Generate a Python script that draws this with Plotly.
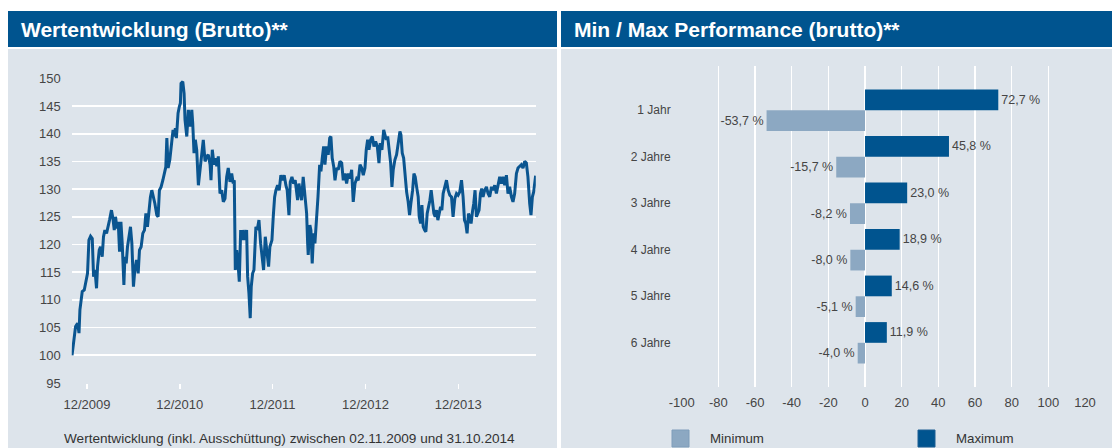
import plotly.graph_objects as go
from datetime import datetime

# ---------------- data ----------------
# Left chart: performance index (decimal year, value)
time_dec = [
    2009.836, 2009.849, 2009.860, 2009.874, 2009.896, 2009.911, 2009.921, 2009.932, 2009.946, 2009.968,
    2009.982, 2010.003, 2010.018, 2010.036, 2010.054, 2010.068, 2010.083, 2010.100, 2010.111, 2010.129,
    2010.143, 2010.161, 2010.175, 2010.190, 2010.208, 2010.226, 2010.240, 2010.261, 2010.277, 2010.291,
    2010.305, 2010.320, 2010.334, 2010.348, 2010.363, 2010.377, 2010.395, 2010.406, 2010.420, 2010.434,
    2010.452, 2010.466, 2010.481, 2010.498, 2010.513, 2010.531, 2010.549, 2010.563, 2010.581, 2010.599,
    2010.617, 2010.632, 2010.649, 2010.664, 2010.681, 2010.696, 2010.713, 2010.729, 2010.750, 2010.764,
    2010.778, 2010.796, 2010.815, 2010.832, 2010.847, 2010.858, 2010.872, 2010.890, 2010.907, 2010.925,
    2010.936, 2010.950, 2010.961, 2010.979, 2010.993, 2011.004, 2011.011, 2011.030, 2011.044, 2011.054,
    2011.073, 2011.090, 2011.108, 2011.127, 2011.137, 2011.151, 2011.165, 2011.180, 2011.198, 2011.216,
    2011.234, 2011.251, 2011.270, 2011.288, 2011.305, 2011.324, 2011.334, 2011.348, 2011.367, 2011.385,
    2011.396, 2011.413, 2011.431, 2011.449, 2011.467, 2011.485, 2011.503, 2011.520, 2011.539, 2011.557,
    2011.574, 2011.585, 2011.596, 2011.611, 2011.628, 2011.639, 2011.654, 2011.668, 2011.682, 2011.700,
    2011.718, 2011.729, 2011.743, 2011.757, 2011.768, 2011.783, 2011.797, 2011.818, 2011.832, 2011.851,
    2011.869, 2011.886, 2011.901, 2011.919, 2011.937, 2011.955, 2011.969, 2011.991, 2012.005, 2012.020,
    2012.034, 2012.052, 2012.069, 2012.087, 2012.106, 2012.123, 2012.141, 2012.155, 2012.174, 2012.188,
    2012.206, 2012.224, 2012.241, 2012.267, 2012.281, 2012.295, 2012.310, 2012.327, 2012.346, 2012.364,
    2012.375, 2012.381, 2012.399, 2012.410, 2012.424, 2012.439, 2012.453, 2012.472, 2012.486, 2012.504,
    2012.518, 2012.532, 2012.547, 2012.561, 2012.579, 2012.596, 2012.612, 2012.625, 2012.639, 2012.655,
    2012.669, 2012.687, 2012.704, 2012.722, 2012.741, 2012.758, 2012.776, 2012.794, 2012.812, 2012.830,
    2012.848, 2012.865, 2012.884, 2012.902, 2012.919, 2012.938, 2012.956, 2012.973, 2012.991, 2013.005,
    2013.020, 2013.034, 2013.053, 2013.070, 2013.088, 2013.106, 2013.124, 2013.142, 2013.156, 2013.174,
    2013.193, 2013.207, 2013.221, 2013.236, 2013.250, 2013.268, 2013.282, 2013.296, 2013.314, 2013.332,
    2013.350, 2013.368, 2013.379, 2013.393, 2013.408, 2013.422, 2013.440, 2013.457, 2013.472, 2013.486,
    2013.505, 2013.519, 2013.533, 2013.548, 2013.565, 2013.576, 2013.591, 2013.605, 2013.619, 2013.634,
    2013.648, 2013.662, 2013.677, 2013.691, 2013.705, 2013.720, 2013.734, 2013.748, 2013.763, 2013.777,
    2013.791, 2013.806, 2013.820, 2013.834, 2013.852, 2013.870, 2013.888, 2013.906, 2013.924, 2013.941,
    2013.960, 2013.978, 2013.995, 2014.013, 2014.032, 2014.049, 2014.064, 2014.078, 2014.092, 2014.107,
    2014.121, 2014.135, 2014.150, 2014.164, 2014.178, 2014.193, 2014.207, 2014.221, 2014.236, 2014.250,
    2014.264, 2014.282, 2014.301, 2014.318, 2014.336, 2014.355, 2014.372, 2014.390, 2014.408, 2014.426,
    2014.444, 2014.462, 2014.479, 2014.498, 2014.516, 2014.533, 2014.551, 2014.570, 2014.587, 2014.605,
    2014.624, 2014.641, 2014.659, 2014.677, 2014.695, 2014.713, 2014.731, 2014.748, 2014.767, 2014.781,
    2014.796, 2014.810, 2014.831,
]
index_values = [
    100.0, 101.6, 103.4, 105.2, 105.8, 104.0, 108.2, 110.0, 111.5, 111.8,
    113.0, 114.8, 120.8, 121.5, 121.1, 114.2, 115.4, 112.1, 116.0, 119.0,
    119.6, 117.8, 121.4, 122.6, 122.0, 123.8, 124.4, 126.2, 124.7, 122.6,
    125.0, 122.9, 124.1, 118.7, 124.1, 120.2, 112.7, 117.8, 116.6, 119.6,
    121.4, 123.2, 120.2, 112.4, 115.4, 117.2, 114.8, 119.0, 119.6, 122.0,
    122.6, 125.6, 123.2, 126.2, 128.6, 129.8, 128.6, 127.4, 125.3, 125.0,
    129.8, 130.4, 131.6, 132.8, 134.0, 139.2, 133.8, 135.3, 137.7, 140.7,
    139.5, 141.0, 139.2, 143.7, 144.9, 145.5, 149.1, 149.4, 147.3, 142.5,
    139.5, 144.3, 141.3, 144.3, 141.9, 136.5, 138.9, 137.1, 130.7, 133.5,
    136.5, 138.9, 135.0, 135.9, 136.2, 134.4, 131.6, 137.1, 134.4, 135.6,
    134.1, 135.9, 129.2, 129.8, 127.7, 128.3, 132.2, 133.8, 131.3, 132.8,
    131.0, 131.6, 115.4, 119.0, 116.0, 113.3, 122.6, 120.8, 122.6, 120.8,
    122.6, 114.2, 111.2, 106.7, 112.4, 114.8, 115.4, 123.2, 122.6, 124.4,
    120.2, 117.2, 115.4, 121.4, 119.0, 116.0, 119.6, 120.8, 125.0, 128.6,
    129.8, 130.7, 129.8, 132.5, 131.6, 132.5, 130.7, 129.8, 125.3, 131.3,
    132.2, 131.0, 131.6, 128.0, 131.0, 129.5, 128.0, 132.2, 129.2, 125.6,
    120.2, 118.1, 123.5, 122.6, 116.6, 122.0, 120.2, 124.4, 128.6, 134.4,
    133.2, 135.6, 137.7, 134.4, 137.7, 136.2, 139.2, 139.5, 135.6, 134.1,
    131.6, 133.8, 133.5, 135.0, 134.7, 131.6, 132.8, 131.0, 132.8, 131.9,
    133.5, 127.7, 131.0, 131.9, 131.6, 134.4, 133.8, 132.5, 133.8, 137.1,
    138.9, 137.1, 138.9, 139.5, 137.7, 138.6, 137.7, 134.7, 138.3, 137.1,
    140.7, 139.8, 138.9, 139.5, 137.1, 134.7, 130.4, 133.5, 135.3, 136.2,
    138.3, 140.4, 139.8, 136.5, 135.6, 132.2, 129.5, 127.7, 125.3, 127.4,
    129.8, 132.8, 132.2, 130.4, 128.6, 125.0, 123.8, 127.1, 123.2, 122.6,
    122.3, 125.6, 126.8, 128.0, 129.8, 127.4, 125.6, 125.0, 126.2, 124.4,
    125.6, 126.8, 126.2, 129.2, 130.4, 131.6, 129.8, 128.9, 128.6, 125.0,
    128.3, 129.2, 128.9, 129.5, 131.6, 128.6, 124.4, 123.8, 122.0, 125.6,
    125.0, 123.8, 125.9, 127.4, 129.8, 125.0, 125.6, 126.2, 129.2, 130.1,
    128.6, 129.8, 130.4, 129.2, 128.6, 130.4, 129.8, 130.7, 129.2, 131.0,
    132.2, 131.0, 132.2, 130.7, 132.5, 129.2, 130.4, 128.6, 127.7, 129.2,
    132.8, 133.8, 134.1, 134.4, 133.8, 135.0, 134.7, 132.2, 127.4, 125.3,
    128.6, 129.5, 132.4,
]
x_tick_dates = ["2009-12-31", "2010-12-31", "2011-12-31", "2012-12-31", "2013-12-31"]
x_tick_labels = ["12/2009", "12/2010", "12/2011", "12/2012", "12/2013"]
y_ticks_left = [95, 100, 105, 110, 115, 120, 125, 130, 135, 140, 145, 150]

# Right chart: min / max performance
periods = ["1 Jahr", "2 Jahre", "3 Jahre", "4 Jahre", "5 Jahre", "6 Jahre"]
max_perf = [72.7, 45.8, 23.0, 18.9, 14.6, 11.9]
min_perf = [-53.7, -15.7, -8.2, -8.0, -5.1, -4.0]
x_ticks_right = [-100, -80, -60, -40, -20, 0, 20, 40, 60, 80, 100, 120]

title_left = "Wertentwicklung (Brutto)**"
title_right = "Min / Max Performance (brutto)**"
caption_left = "Wertentwicklung (inkl. Ausschüttung) zwischen 02.11.2009 und 31.10.2014"

# ---------------- style ----------------
W, H = 1115, 448
BG = "#dde4eb"
BLUE = "#00548f"
LIGHT = "#8ca8c2"
TXT = "#454545"
FONT = "Liberation Sans, Arial, sans-serif"


def dec_to_date(t):
    y = int(t)
    s = datetime(y, 1, 1)
    e = datetime(y + 1, 1, 1)
    return s + (e - s) * (t - y)


def px(x):
    return x / W


def py(y):
    return 1 - y / H


def fmt(v):
    return f"{v:.1f}".replace(".", ",") + " %"


dates = [dec_to_date(t) for t in time_dec]

fig = go.Figure()

fig.add_trace(go.Scatter(
    x=dates, y=index_values, mode="lines",
    line=dict(color="#0a5590", width=3),
    xaxis="x", yaxis="y", showlegend=False, hoverinfo="skip",
))

fig.add_trace(go.Bar(
    y=periods, x=max_perf, orientation="h", name="Maximum",
    marker=dict(color=BLUE, line=dict(width=0)),
    text=[fmt(v) for v in max_perf], textposition="outside",
    textfont=dict(size=12.5, color=TXT, family=FONT), cliponaxis=False,
    constraintext="none",
    xaxis="x2", yaxis="y2", showlegend=False, hoverinfo="skip",
))
fig.add_trace(go.Bar(
    y=periods, x=min_perf, orientation="h", name="Minimum",
    marker=dict(color=LIGHT, line=dict(width=0)),
    text=[fmt(v) for v in min_perf], textposition="outside",
    textfont=dict(size=12.5, color=TXT, family=FONT), cliponaxis=False,
    constraintext="none",
    xaxis="x2", yaxis="y2", showlegend=False, hoverinfo="skip",
))

shapes = []
# panel backgrounds and title bars
for x0, x1 in [(8, 557), (561, 1112)]:
    shapes.append(dict(type="rect", xref="paper", yref="paper", layer="below",
                       x0=px(x0), x1=px(x1), y0=py(448), y1=py(49),
                       fillcolor=BG, line=dict(width=0)))
    shapes.append(dict(type="rect", xref="paper", yref="paper", layer="below",
                       x0=px(x0), x1=px(x1), y0=py(47), y1=py(11),
                       fillcolor=BLUE, line=dict(width=0)))
# legend squares
shapes.append(dict(type="rect", xref="paper", yref="paper",
                   x0=px(672), x1=px(689), y0=py(447), y1=py(430),
                   fillcolor=LIGHT, line=dict(color="#7f9dba", width=1)))
shapes.append(dict(type="rect", xref="paper", yref="paper",
                   x0=px(918), x1=px(935), y0=py(447), y1=py(430),
                   fillcolor=BLUE, line=dict(color="#1d5f93", width=1)))

annotations = [
    dict(text=title_left, x=px(19), y=py(29), xref="paper", yref="paper",
         xanchor="left", yanchor="middle", showarrow=False,
         font=dict(family=FONT, size=21, color="white", weight="bold")),
    dict(text=title_right, x=px(572), y=py(29), xref="paper", yref="paper",
         xanchor="left", yanchor="middle", showarrow=False,
         font=dict(family=FONT, size=21, color="white", weight="bold")),
    dict(text=caption_left, x=px(289.5), y=py(438), xref="paper", yref="paper",
         xanchor="center", yanchor="middle", showarrow=False,
         font=dict(family=FONT, size=13.6, color="#333333")),
    dict(text="Minimum", x=px(708), y=py(438.5), xref="paper", yref="paper",
         xanchor="left", yanchor="middle", showarrow=False,
         font=dict(family=FONT, size=13.3, color="#333333")),
    dict(text="Maximum", x=px(954), y=py(438.5), xref="paper", yref="paper",
         xanchor="left", yanchor="middle", showarrow=False,
         font=dict(family=FONT, size=13.3, color="#333333")),
]

fig.update_layout(
    width=W, height=H,
    margin=dict(l=0, r=0, t=0, b=0, pad=0, autoexpand=False),
    paper_bgcolor="white", plot_bgcolor="rgba(0,0,0,0)",
    font=dict(family=FONT, color=TXT, size=13),
    showlegend=False,
    barmode="group", bargap=0.11, bargroupgap=0,
    shapes=shapes, annotations=annotations,
    xaxis=dict(
        domain=[px(71.75), px(535.8)], anchor="y",
        type="date", range=["2009-11-01", "2014-11-01"],
        tickvals=x_tick_dates, ticktext=x_tick_labels,
        showgrid=False, zeroline=False, showline=False,
        ticks="outside", ticklen=5, tickwidth=1.5, tickcolor="white",
        tickfont=dict(size=13, color=TXT), ticklabelstandoff=4,
        automargin=False, fixedrange=True,
    ),
    yaxis=dict(
        domain=[py(383), py(78.3)], anchor="x",
        range=[95, 150], tickvals=y_ticks_left,
        showgrid=True, gridcolor="white", gridwidth=1.6,
        zeroline=False, showline=False, ticks="",
        tickfont=dict(size=13, color=TXT), ticklabelstandoff=10,
        automargin=False, fixedrange=True,
    ),
    xaxis2=dict(
        domain=[px(681.7), px(1085)], anchor="y2",
        range=[-100, 120], tickvals=x_ticks_right,
        ticktext=[str(v) for v in x_ticks_right],
        showgrid=True, gridcolor="white", gridwidth=1.5,
        zeroline=False, showline=False, ticks="",
        tickfont=dict(size=13, color=TXT), ticklabelstandoff=6,
        automargin=False, fixedrange=True,
    ),
    yaxis2=dict(
        domain=[py(387), py(66)], anchor="x2",
        type="category", categoryorder="array", categoryarray=periods,
        range=[5.95, -0.95],
        showgrid=False, zeroline=False, showline=False, ticks="",
        tickfont=dict(size=12, color=TXT), ticklabelstandoff=10,
        automargin=False, fixedrange=True,
    ),
)

fig.write_html(
    "out.html",
    config={"displayModeBar": False, "staticPlot": True},
    post_script="document.body.style.margin='0';document.body.style.padding='0';",
)
